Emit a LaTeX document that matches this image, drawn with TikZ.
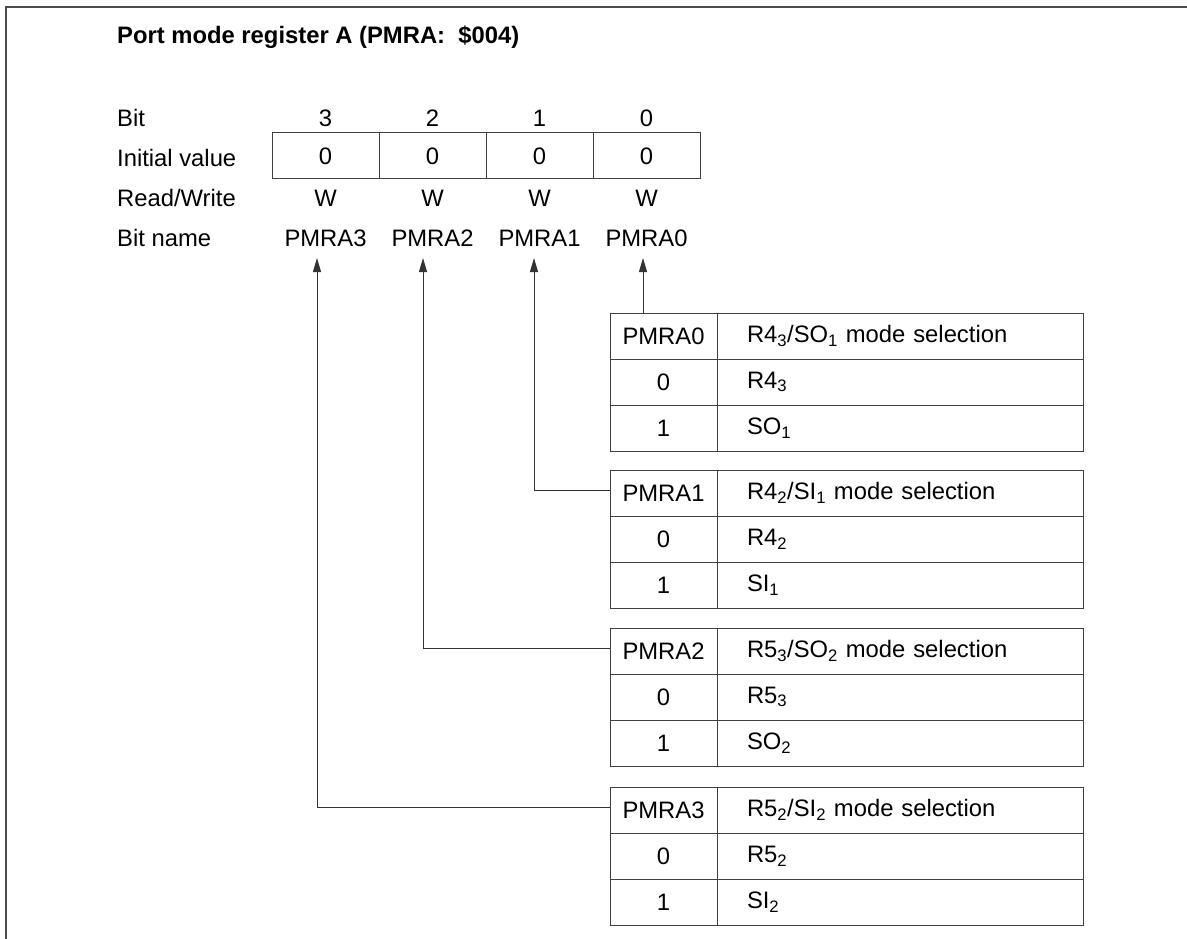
\documentclass[tikz,border=0pt]{standalone}
\usepackage{fontspec}
\setmainfont{Liberation Sans}
\usetikzlibrary{positioning, arrows.meta}

\begin{document}
\begin{tikzpicture}[x=1pt, y=-1pt, >={Triangle[length=14pt,width=8pt]},
  every node/.style={font=\fontsize{23.8}{28}\selectfont, inner sep=0pt},
  wire/.style={line width=1pt, black!80},
  regcell/.style={draw=black!75, line width=1pt, minimum width=107pt, minimum height=46pt},
  bitcell/.style={draw=black!75, line width=1pt, minimum width=107pt, minimum height=46pt},
  desccell/.style={draw=black!75, line width=1pt, minimum height=46pt, text width=306pt,
    inner xsep=30pt, align=left}]

\useasboundingbox (0,0) rectangle (1187,939);

% Frame
\draw[line width=1.5pt, black!70] (1187,7) -- (6,7) -- (6,939);

% Title
\node[anchor=west] (title) at (117,37) {\bfseries Port mode register A (PMRA:\ \ \$004)};

% Row labels
\node[anchor=west] (lbit) at (117,118) {Bit};
\node[anchor=west] (linit) at (117,158) {Initial value};
\node[anchor=west] (lrw) at (117,198) {Read/Write};
\node[anchor=west] (lname) at (117,238) {Bit name};

% Register
\foreach \i/\x in {3/325.5, 2/432.5, 1/539.5, 0/646.5} {
  \node at (\x,118) (bit\i) {\i};
  \node[regcell] at (\x,156) (reg\i) {0};
  \node at (\x,198) (rw\i) {W};
  \node at (\x,238) (nm\i) {PMRA\i};
}

% Arrow tips under the bit names
\foreach \i/\tx in {3/317, 2/423, 1/534, 0/643}
  \coordinate (tip\i) at (\tx,258);

% Selection tables
\foreach \i/\top/\head/\zero/\one in {
  0/313/{R4\textsubscript{3}/SO\textsubscript{1} mode selection}/{R4\textsubscript{3}}/{SO\textsubscript{1}},
  1/470/{R4\textsubscript{2}/SI\textsubscript{1} mode selection}/{R4\textsubscript{2}}/{SI\textsubscript{1}},
  2/628/{R5\textsubscript{3}/SO\textsubscript{2} mode selection}/{R5\textsubscript{3}}/{SO\textsubscript{2}},
  3/787/{R5\textsubscript{2}/SI\textsubscript{2} mode selection}/{R5\textsubscript{2}}/{SI\textsubscript{2}}} {
  \node[bitcell] at (663.5,\top+23) (t\i h) {PMRA\i};
  \node[desccell] at (900,\top+23) (t\i d) {\head};
  \node[bitcell] at (663.5,\top+69) (t\i a) {0};
  \node[desccell] at (900,\top+69) (t\i b) {\zero};
  \node[bitcell] at (663.5,\top+115) (t\i c) {1};
  \node[desccell] at (900,\top+115) (t\i e) {\one};
}

% Connections
\draw[wire,->] (t0h.north -| tip0) -- (tip0);
\foreach \i in {1,2,3}
  \draw[wire,->] ([yshift=2.5pt]t\i h.west) -| (tip\i);

\end{tikzpicture}
\end{document}
